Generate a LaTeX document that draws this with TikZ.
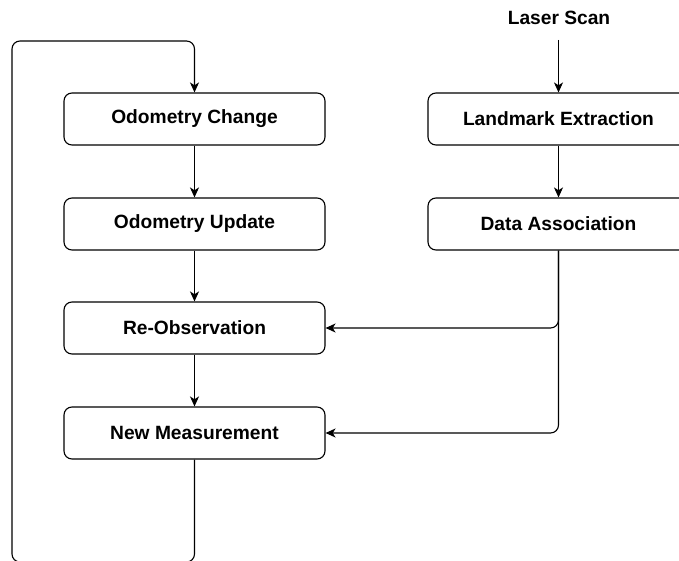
\documentclass[tikz,border=0pt]{standalone}
\usepackage{fontspec}
\setmainfont{Liberation Sans}
\usetikzlibrary{arrows.meta}
\begin{document}
\begin{tikzpicture}[x=1pt,y=-1pt,
  box/.style={draw, rounded corners=8pt, minimum width=261pt, minimum height=52pt,
    line width=1.1pt, inner sep=0pt, font=\bfseries\fontsize{19.2}{22}\selectfont},
  lbl/.style={inner sep=0pt, font=\bfseries\fontsize{19.2}{22}\selectfont},
  flow/.style={draw, line width=1.1pt, rounded corners=8pt,
    -{Stealth[length=10pt,width=9pt,inset=2.8pt]}}]
\clip (0,0) rectangle (679,561);
\useasboundingbox (0,0) rectangle (679,561);

% left column
\node[box] (oc) at (194.5,119) {Odometry Change};
\node[box] (ou) at (194.5,224) {Odometry Update};
\node[box] (ro) at (194.5,328) {Re-Observation};
\node[box] (nm) at (194.5,433) {New Measurement};

% right column
\node[lbl] (ls) at (559,18) {Laser Scan};
\coordinate (lsout) at (558.5,40);
\node[box] (le) at (558.5,119) {Landmark Extraction};
\node[box] (da) at (558.5,224) {Data Association};

% vertical flow
\draw[flow] (oc) -- (ou);
\draw[flow] (ou) -- (ro);
\draw[flow] (ro) -- (nm);
\draw[flow] (lsout) -- (le);
\draw[flow] (le) -- (da);

% data association feeds both measurement steps
\draw[flow] (da.south) -- (558.5,328) -- (ro.east);
\draw[flow] (da.south) -- (558.5,433) -- (nm.east);

% loop back to the odometry change
\draw[flow] (nm.south) -- (194.5,562) -- (12,562) -- (12,41) -- (194.5,41) -- (oc.north);
\end{tikzpicture}
\end{document}
